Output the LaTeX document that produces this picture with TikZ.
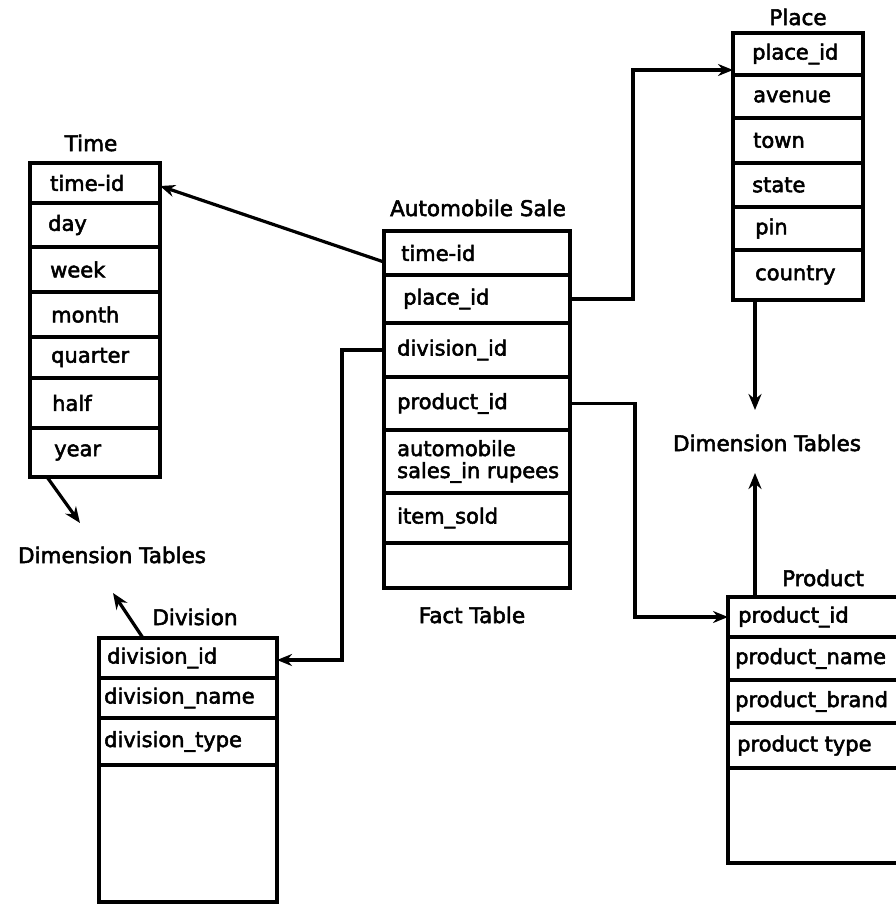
\documentclass[tikz,border=0pt]{standalone}
\usepackage{fontspec}
\setmainfont{DejaVu Sans}[BoldFont=DejaVu Sans, BoldFeatures={FakeBold=2.5}]
\usetikzlibrary{arrows.meta,calc}

% one framed row of a table: name, left x, top y, right x, bottom y, text indent, text
\newcommand\tabrow[7]{%
  \pgfmathsetmacro\rw{#4-#2}\pgfmathsetmacro\rh{#5-#3}%
  \node[cell, minimum width=\rw pt, minimum height=\rh pt] (#1) at (#2,#3) {};
  \node[entry] (#1t) at ([xshift=#6pt]#1.west) {#7};}

\begin{document}
\begin{tikzpicture}[x=1pt,y=-1pt,
  cell/.style={draw, line width=3.2pt, anchor=north west, inner sep=0pt, outer sep=0pt},
  entry/.style={anchor=west, align=left, inner sep=0pt, font=\bfseries\fontsize{21}{22}\selectfont},
  caption/.style={inner sep=0pt, font=\bfseries\fontsize{21.5}{23}\selectfont},
  conn/.style={line width=3.2pt, -{Stealth[length=16pt,width=13pt]}},
  link/.style={line width=3.2pt, -{Stealth[length=15pt,width=12pt]}}]
\useasboundingbox (0,0) rectangle (896,905);
\clip (0,0) rectangle (896,905);

% Time
\node[caption] (timecap) at (91,143) {Time};
\tabrow{t1}{30}{163}{160}{203}{20}{time-id}
\tabrow{t2}{30}{203}{160}{247}{18}{day}
\tabrow{t3}{30}{247}{160}{292}{20}{week}
\tabrow{t4}{30}{292}{160}{337}{21}{month}
\tabrow{t5}{30}{337}{160}{378}{21}{quarter}
\tabrow{t6}{30}{378}{160}{428}{22}{half}
\tabrow{t7}{30}{428}{160}{477}{24}{year}

% Automobile Sale (fact table)
\node[caption] (factcap) at (478,208) {Automobile Sale};
\tabrow{f1}{384}{231}{570}{275}{17}{time-id}
\tabrow{f2}{384}{275}{570}{323}{19}{place\_id}
\tabrow{f3}{384}{323}{570}{377}{13}{division\_id}
\tabrow{f4}{384}{377}{570}{430}{13}{product\_id}
\tabrow{f5}{384}{430}{570}{493}{13}{automobile\\sales\_in rupees}
\tabrow{f6}{384}{493}{570}{543}{13}{item\_sold}
\tabrow{f7}{384}{543}{570}{588}{13}{}
\node[caption] (facttab) at (472,615) {Fact Table};

% Place
\node[caption] (placecap) at (798,17) {Place};
\tabrow{p1}{733}{33}{863}{75}{19}{place\_id}
\tabrow{p2}{733}{75}{863}{118}{20}{avenue}
\tabrow{p3}{733}{118}{863}{163}{20}{town}
\tabrow{p4}{733}{163}{863}{207}{19}{state}
\tabrow{p5}{733}{207}{863}{250}{22}{pin}
\tabrow{p6}{733}{250}{863}{300}{22}{country}

% Division
\node[caption] (divcap) at (195,617) {Division};
\tabrow{d1}{99}{638}{277}{678}{8}{division\_id}
\tabrow{d2}{99}{678}{277}{718}{5}{division\_name}
\tabrow{d3}{99}{718}{277}{765}{5}{division\_type}
\tabrow{d4}{99}{765}{277}{902}{6}{}

% Product
\node[caption] (prodcap) at (823,578) {Product};
\tabrow{r1}{728}{597}{910}{637}{10}{product\_id}
\tabrow{r2}{728}{637}{910}{680}{7}{product\_name}
\tabrow{r3}{728}{680}{910}{723}{7}{product\_brand}
\tabrow{r4}{728}{723}{910}{768}{9}{product type}
\tabrow{r5}{728}{768}{910}{863}{9}{}

% dimension table labels
\node[caption] (dimleft) at (112,555) {Dimension Tables};
\node[caption] (dimright) at (767,443) {Dimension Tables};
\coordinate (timeend) at (80,523);
\coordinate (divend) at (113,593);
\coordinate (placeend) at (755,410);
\coordinate (prodend) at (755,473);

% foreign key links from the fact table
\draw[link] ([yshift=-9pt]f1.west) -- ([yshift=-3pt]t1.east);
\draw[link] (f2.east) -- ++(63,0) |- ([yshift=-16pt]p1.west);
\draw[link] (f3.west) -- ++(-42,0) |- ([yshift=-2pt]d1.east);
\draw[link] (f4.east) -- ++(65,0) |- (r1.west);

% links to the dimension labels
\draw[conn] ([xshift=-43pt]p6.south) -- (placeend);
\draw[conn] (r1.north west -| prodend) -- (prodend);
\draw[conn] ([xshift=17pt]t7.south west) -- (timeend);
\draw[conn] ([xshift=44pt]d1.north west) -- (divend);
\end{tikzpicture}
\end{document}
